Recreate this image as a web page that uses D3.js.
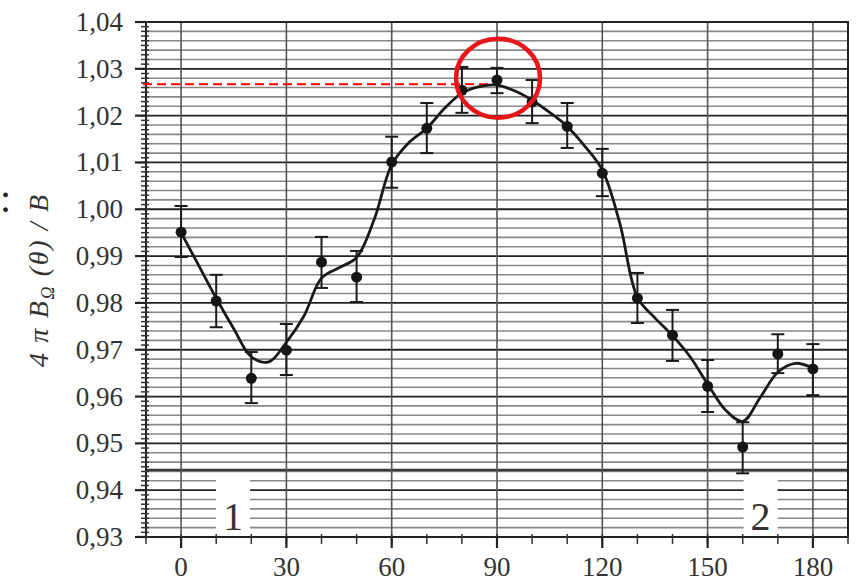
<!DOCTYPE html>
<html>
<head>
<meta charset="utf-8">
<script src="https://cdn.jsdelivr.net/npm/d3@7"></script>
<style>
  body { margin: 0; background: #fff; }
  text { font-family: "Liberation Serif", serif; }
</style>
</head>
<body>
<div id="chart"></div>
<script>
// measured points (angle in degrees)
var angles  = [0, 10, 20, 30, 40, 50, 60, 70, 80, 90, 100, 110, 120, 130, 140, 150, 160, 170, 180];
var values  = [0.9951, 0.9804, 0.9639, 0.9699, 0.9887, 0.9855, 1.0101, 1.0173, 1.0254, 1.0276,
               1.0229, 1.0177, 1.0077, 0.9810, 0.9731, 0.9622, 0.9492, 0.9691, 0.9659];
var errHigh = [1.0007, 0.9860, 0.9695, 0.9755, 0.9941, 0.9911, 1.0155, 1.0227, 1.0304, 1.0302,
               1.0276, 1.0227, 1.0129, 0.9864, 0.9785, 0.9678, 0.9545, 0.9733, 0.9712];
var errLow  = [0.9898, 0.9748, 0.9586, 0.9646, 0.9832, 0.9802, 1.0046, 1.0120, 1.0206, 1.0248,
               1.0184, 1.0131, 1.0028, 0.9757, 0.9676, 0.9567, 0.9436, 0.9650, 0.9603];

// fitted curve
var fitAngles = [0, 5, 10, 15, 20, 25, 30, 35, 40, 45, 50, 55, 60, 65, 70, 75, 80, 85, 90,
                 95, 100, 105, 110, 115, 120, 125, 130, 135, 140, 145, 150, 155, 160, 165, 170, 175, 180];
var fitValues = [0.9950, 0.9880, 0.9810, 0.9745, 0.9685, 0.9674, 0.9716, 0.9772, 0.9853, 0.9875,
                 0.9897, 0.9978, 1.0095, 1.0143, 1.0173, 1.0215, 1.0248, 1.0262, 1.0265,
                 1.0253, 1.0233, 1.0207, 1.0177, 1.0135, 1.0084, 0.9970, 0.9812, 0.9768,
                 0.9730, 0.9685, 0.9627, 0.9572, 0.9547, 0.9598, 0.9652, 0.9671, 0.9661];

var xTicks = [0, 30, 60, 90, 120, 150, 180];
var xMinorTicks = d3.range(-10, 191, 10);
var yTicks = [0.93, 0.94, 0.95, 0.96, 0.97, 0.98, 0.99, 1.00, 1.01, 1.02, 1.03, 1.04];
var yGrid = d3.range(930, 1041, 2).map(d => d / 1000);
var yMinorTicks = d3.range(930, 1041, 1).map(d => d / 1000);
var extraLine = 0.9443;
var peakLevel = 1.0267;
var regionLabels = ["1", "2"];

var width = 859, height = 582;
var margin = {top: 22, right: 11, bottom: 45, left: 146};

var svg = d3.select("#chart").append("svg").attr("width", width).attr("height", height);

var x = d3.scaleLinear().domain([-10, 190]).range([margin.left, width - margin.right]);
var y = d3.scaleLinear().domain([0.93, 1.04]).range([height - margin.bottom, margin.top]);

var fmt = d => d3.format(".2f")(d).replace(".", ",");

// horizontal grid
svg.append("g").selectAll("line").data(yGrid).enter().append("line")
    .attr("x1", x(-10)).attr("x2", x(190))
    .attr("y1", d => y(d)).attr("y2", d => y(d))
    .style("stroke", d => (Math.round(d * 1000) % 10 == 0) ? "#222" : "#888")
    .style("stroke-width", d => (Math.round(d * 1000) % 10 == 0) ? 1.8 : 1.6);

svg.append("line")
    .attr("x1", x(-10)).attr("x2", x(190))
    .attr("y1", y(extraLine)).attr("y2", y(extraLine))
    .style("stroke", "#3a3a3a").style("stroke-width", 2.4);

// vertical grid
svg.append("g").selectAll("line").data(xTicks).enter().append("line")
    .attr("x1", d => x(d)).attr("x2", d => x(d))
    .attr("y1", y(1.04)).attr("y2", y(0.93))
    .style("stroke", "#555").style("stroke-width", 1.6);

// frame
svg.append("rect")
    .attr("x", x(-10)).attr("y", y(1.04))
    .attr("width", x(190) - x(-10)).attr("height", y(0.93) - y(1.04))
    .style("fill", "none").style("stroke", "#222").style("stroke-width", 2);

// y axis ticks
svg.append("g").selectAll("line").data(yMinorTicks).enter().append("line")
    .attr("x1", x(-10) - 5).attr("x2", x(-10) + 3)
    .attr("y1", d => y(d)).attr("y2", d => y(d))
    .style("stroke", "#333").style("stroke-width", 1.5);
svg.append("g").selectAll("line").data(yTicks).enter().append("line")
    .attr("x1", x(-10) - 11).attr("x2", x(-10))
    .attr("y1", d => y(d)).attr("y2", d => y(d))
    .style("stroke", "#222").style("stroke-width", 2.2);
svg.append("g").selectAll("text").data(yTicks).enter().append("text")
    .attr("x", x(-10) - 23).attr("y", d => y(d) + 9)
    .style("text-anchor", "end").style("font-size", "27px").style("fill", "#333")
    .text(fmt);

// x axis ticks
svg.append("g").selectAll("line").data(xMinorTicks).enter().append("line")
    .attr("x1", d => x(d)).attr("x2", d => x(d))
    .attr("y1", y(0.93) - 3).attr("y2", y(0.93) + 7)
    .style("stroke", "#333").style("stroke-width", 1.5);
svg.append("g").selectAll("line").data(xTicks).enter().append("line")
    .attr("x1", d => x(d)).attr("x2", d => x(d))
    .attr("y1", y(0.93)).attr("y2", y(0.93) + 11)
    .style("stroke", "#222").style("stroke-width", 2.2);
svg.append("g").selectAll("text").data(xTicks).enter().append("text")
    .attr("x", d => x(d)).attr("y", y(0.93) + 39)
    .style("text-anchor", "middle").style("font-size", "27px").style("fill", "#333")
    .text(d => d);

// region labels 1 and 2
var labelPos = [14.8, 165.1];
regionLabels.forEach((t, i) => {
    svg.append("rect")
        .attr("x", x(labelPos[i]) - 17).attr("y", y(0.9422))
        .attr("width", 34).attr("height", y(0.9311) - y(0.9422))
        .style("fill", "#fff");
    svg.append("text")
        .attr("x", x(labelPos[i])).attr("y", y(0.9316))
        .style("text-anchor", "middle").style("font-size", "40px").style("fill", "#333")
        .text(t);
});

// dashed level line at the peak
svg.append("line")
    .attr("x1", x(-10) - 3).attr("x2", x(90))
    .attr("y1", y(peakLevel)).attr("y2", y(peakLevel))
    .style("stroke", "#f00").style("stroke-width", 2).style("stroke-dasharray", "9,5");

// fitted curve
var line = d3.line().x(d => x(d[0])).y(d => y(d[1])).curve(d3.curveCatmullRom.alpha(0.5));
svg.append("path")
    .datum(fitAngles.map((a, i) => [a, fitValues[i]]))
    .attr("d", line)
    .style("fill", "none").style("stroke", "#1a1a1a").style("stroke-width", 2.8);

// error bars and points
var pts = angles.map((a, i) => ({a: a, v: values[i], lo: errLow[i], hi: errHigh[i]}));
var eg = svg.append("g").style("stroke", "#1a1a1a").style("stroke-width", 2);
eg.selectAll(".bar").data(pts).enter().append("line")
    .attr("x1", d => x(d.a)).attr("x2", d => x(d.a))
    .attr("y1", d => y(d.lo)).attr("y2", d => y(d.hi));
eg.selectAll(".capHi").data(pts).enter().append("line")
    .attr("x1", d => x(d.a) - 6.5).attr("x2", d => x(d.a) + 6.5)
    .attr("y1", d => y(d.hi)).attr("y2", d => y(d.hi));
eg.selectAll(".capLo").data(pts).enter().append("line")
    .attr("x1", d => x(d.a) - 6.5).attr("x2", d => x(d.a) + 6.5)
    .attr("y1", d => y(d.lo)).attr("y2", d => y(d.lo));
svg.append("g").selectAll("circle").data(pts).enter().append("circle")
    .attr("cx", d => x(d.a)).attr("cy", d => y(d.v)).attr("r", 5.5)
    .style("fill", "#151515");

// red ring round the maximum
svg.append("ellipse")
    .attr("cx", x(90.3)).attr("cy", y(1.0280))
    .attr("rx", 42).attr("ry", 39.5)
    .style("fill", "none").style("stroke", "#e8151b").style("stroke-width", 4.5);

// y axis title
var yt = svg.append("text")
    .attr("transform", "translate(48,281) rotate(-90)")
    .attr("textLength", 172).attr("lengthAdjust", "spacing")
    .style("text-anchor", "middle").style("font-size", "28px").style("font-style", "italic")
    .style("fill", "#333");
yt.append("tspan").text("4 π B");
yt.append("tspan").attr("dy", 6).style("font-size", "18px").text("Ω");
yt.append("tspan").attr("dy", -6).text(" (θ) / B");

svg.append("text").attr("x", 0).attr("y", 212)
    .style("font-size", "40px").style("fill", "#222").text(":");
</script>
</body>
</html>
